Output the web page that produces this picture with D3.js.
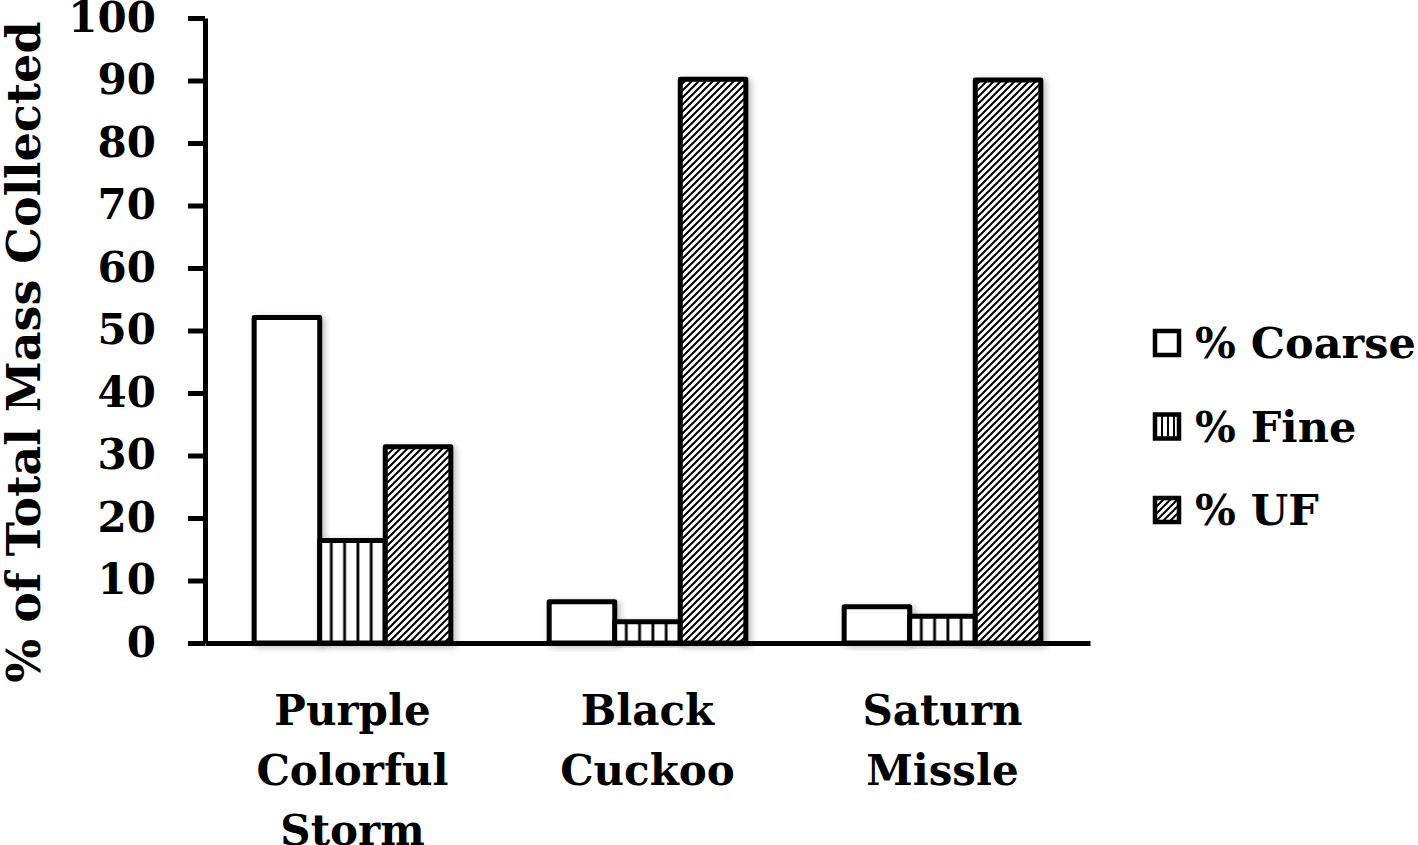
<!DOCTYPE html>
<html>
<head>
<meta charset="utf-8">
<script src="https://cdn.jsdelivr.net/npm/d3@7"></script>
<style>
  body { margin: 0; background: #fff; }
  text { font-family: "DejaVu Serif", serif; font-weight: bold; fill: #000; }
</style>
</head>
<body>
<svg width="1418" height="845"></svg>
<script>
// chart data
var categories = ["Purple Colorful Storm", "Black Cuckoo", "Saturn Missle"];
var seriesNames = ["% Coarse", "% Fine", "% UF"];
var coarse = [52.1, 6.6, 5.8];
var fine = [16.4, 3.4, 4.3];
var uf = [31.4, 90.2, 90.1];
var yTicks = [0, 10, 20, 30, 40, 50, 60, 70, 80, 90, 100];

var svg = d3.select("svg");
var defs = svg.append("defs");

// patterns
var pv = defs.append("pattern").attr("id", "vert")
  .attr("patternUnits", "userSpaceOnUse").attr("width", 13.3).attr("height", 10);
pv.append("rect").attr("width", 13.3).attr("height", 10).attr("fill", "#fff");
pv.append("line").attr("x1", 6.6).attr("x2", 6.6).attr("y1", 0).attr("y2", 10)
  .attr("stroke", "#000").attr("stroke-width", 2.8);

var pvs = defs.append("pattern").attr("id", "vertSmall")
  .attr("patternUnits", "userSpaceOnUse").attr("width", 6).attr("height", 10);
pvs.append("rect").attr("width", 6).attr("height", 10).attr("fill", "#fff");
pvs.append("line").attr("x1", 3).attr("x2", 3).attr("y1", 0).attr("y2", 10)
  .attr("stroke", "#000").attr("stroke-width", 2);

var pd = defs.append("pattern").attr("id", "diag")
  .attr("patternUnits", "userSpaceOnUse").attr("width", 7).attr("height", 7);
pd.append("rect").attr("width", 7).attr("height", 7).attr("fill", "#fff");
pd.append("path").attr("d", "M-1,8 L8,-1 M-2,2 L2,-2 M5,9 L9,5")
  .attr("stroke", "#000").attr("stroke-width", 2);

var sh = defs.append("filter").attr("id", "shadow")
  .attr("x", "-20%").attr("y", "-20%").attr("width", "140%").attr("height", "140%");
sh.append("feDropShadow").attr("dx", 3).attr("dy", 2).attr("stdDeviation", 3)
  .attr("flood-color", "#000").attr("flood-opacity", 0.25);

var fills = {"% Coarse": "#fff", "% Fine": "url(#vert)", "% UF": "url(#diag)"};
var legendFills = {"% Coarse": "#fff", "% Fine": "url(#vertSmall)", "% UF": "url(#diag)"};

var rows = categories.map(function(c, i) {
  return {cat: c, "% Coarse": coarse[i], "% Fine": fine[i], "% UF": uf[i]};
});

// scales
var x0 = d3.scaleBand().domain(categories).range([205, 1090]);
var x1 = d3.scaleBand().domain(seriesNames).range([0, x0.bandwidth()]).paddingOuter(0.75);
var y = d3.scaleLinear().domain([0, 100]).range([643, 18]);

// bars
var groups = svg.append("g").selectAll("g")
  .data(rows).enter().append("g")
  .attr("transform", function(d) { return "translate(" + x0(d.cat) + ",0)"; });

groups.selectAll("rect")
  .data(function(d) { return seriesNames.map(function(k) { return {key: k, value: d[k]}; }); })
  .enter().append("rect")
  .attr("x", function(d) { return x1(d.key); })
  .attr("y", function(d) { return y(d.value); })
  .attr("width", x1.bandwidth())
  .attr("height", function(d) { return y(0) - y(d.value); })
  .attr("fill", function(d) { return fills[d.key]; })
  .attr("stroke", "#000")
  .attr("stroke-width", 5)
  .attr("stroke-linejoin", "round")
  .attr("filter", "url(#shadow)");

// y axis
var yAxis = svg.append("g")
  .attr("transform", "translate(205,0)")
  .call(d3.axisLeft(y).tickValues(yTicks).tickSize(17).tickSizeOuter(0).tickPadding(32));
yAxis.select(".domain").attr("stroke-width", 5);
yAxis.selectAll(".tick line").attr("stroke-width", 5);
yAxis.selectAll("text").attr("font-family", "DejaVu Serif").attr("font-size", 42)
  .attr("font-weight", "bold").attr("fill", "#000");

// x axis
var xAxis = svg.append("g")
  .attr("transform", "translate(0,643)")
  .call(d3.axisBottom(x0).tickSize(0).tickSizeOuter(0).tickFormat(""));
xAxis.select(".domain").attr("stroke-width", 5);

var xl = svg.append("g").selectAll("text")
  .data(categories).enter().append("text")
  .attr("text-anchor", "middle")
  .attr("font-size", 42)
  .attr("x", function(d) { return x0(d) + x0.bandwidth() / 2; })
  .attr("y", 725);
xl.selectAll("tspan")
  .data(function(d) { return d.split(" "); })
  .enter().append("tspan")
  .attr("x", function() { return d3.select(this.parentNode).attr("x"); })
  .attr("dy", function(d, i) { return i === 0 ? 0 : 60; })
  .text(function(d) { return d; });

// y title
svg.append("text")
  .attr("transform", "translate(40,352) rotate(-90)")
  .attr("text-anchor", "middle")
  .attr("font-size", 46)
  .text("% of Total Mass Collected");

// legend
var legend = svg.append("g").selectAll("g")
  .data(seriesNames).enter().append("g")
  .attr("transform", function(d, i) { return "translate(1153," + (343 + i * 83.5) + ")"; });

legend.append("rect")
  .attr("x", 2).attr("y", -12)
  .attr("width", 24).attr("height", 24)
  .attr("fill", function(d) { return legendFills[d]; })
  .attr("stroke", "#000").attr("stroke-width", 4.5);

legend.append("text")
  .attr("x", 42).attr("dy", "0.35em")
  .attr("font-size", 43)
  .text(function(d) { return d; });
</script>
</body>
</html>
